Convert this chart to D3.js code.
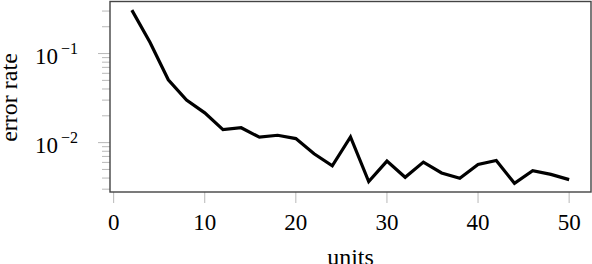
<!DOCTYPE html>
<html>
<head>
<meta charset="utf-8">
<script src="https://cdn.jsdelivr.net/npm/d3@7"></script>
<style>
  body{margin:0;background:#fff;}
  text{font-family:"Liberation Serif","Times New Roman",serif;fill:#000;}
</style>
</head>
<body>
<svg id="chart" width="592" height="264"></svg>
<script>
//data
var units = [2,4,6,8,10,12,14,16,18,20,22,24,26,28,30,32,34,36,38,40,42,44,46,48,50];
var errorRate = [0.307,0.133,0.0508,0.0301,0.0216,0.0140,0.0147,0.0115,0.0121,0.0111,0.0075,0.0055,
                 0.0116,0.00365,0.0062,0.00408,0.00604,0.00457,0.00397,0.00568,0.0063,0.00349,0.00485,0.0044,0.00384];
var xTicks = [0,10,20,30,40,50];
var yDecades = [-2,-1];

//plot box (note: "top" is taken by window.top)
var boxLeft = 110,
    boxRight = 591,
    boxTop = 1.5,
    boxBottom = 192;

var svg = d3.select('#chart');

//pgfplots style 5% enlargement of the data range
var xExt = d3.extent(units),
    xPad = (xExt[1]-xExt[0])*0.05;
var lyExt = d3.extent(errorRate).map(Math.log10),
    lyPad = (lyExt[1]-lyExt[0])*0.05;

var x = d3.scaleLinear()
          .domain([xExt[0]-xPad, xExt[1]+xPad])
          .range([boxLeft, boxRight]);
var y = d3.scaleLog()
          .domain([Math.pow(10,lyExt[0]-lyPad), Math.pow(10,lyExt[1]+lyPad)])
          .range([boxBottom, boxTop]);

//minor ticks on the log axis
var minor = [];
for(let d=-3;d<=0;d++){
    for(let m=2;m<=9;m++){
        let v = m*Math.pow(10,d);
        if(v>=y.domain()[0] && v<=y.domain()[1]) minor.push(v);
    }
}

var tickCol = '#b8b8b8';

svg.append('g').selectAll('line')
   .data(minor)
   .enter()
   .append('line')
   .attr('x1',boxLeft-8).attr('x2',boxLeft)
   .attr('y1',d=>y(d)).attr('y2',d=>y(d))
   .style('stroke',tickCol).style('stroke-width',1);

svg.append('g').selectAll('line')
   .data(yDecades)
   .enter()
   .append('line')
   .attr('x1',boxLeft-12).attr('x2',boxLeft)
   .attr('y1',d=>y(Math.pow(10,d))).attr('y2',d=>y(Math.pow(10,d)))
   .style('stroke',tickCol).style('stroke-width',1);

svg.append('g').selectAll('line')
   .data(xTicks)
   .enter()
   .append('line')
   .attr('x1',d=>x(d)).attr('x2',d=>x(d))
   .attr('y1',boxBottom).attr('y2',boxBottom+11)
   .style('stroke',tickCol).style('stroke-width',1);

//tick labels
svg.append('g').selectAll('text')
   .data(xTicks)
   .enter()
   .append('text')
   .attr('x',d=>x(d))
   .attr('y',230)
   .style('text-anchor','middle')
   .style('font-size','23px')
   .text(d=>d);

var yl = svg.append('g').selectAll('text')
   .data(yDecades)
   .enter()
   .append('text')
   .attr('x',35)
   .attr('y',d=>y(Math.pow(10,d))+10.5)
   .style('font-size','23px');
yl.append('tspan').text('10');
yl.append('tspan')
  .attr('dx',3)
  .attr('dy',-10.5)
  .style('font-size','16px')
  .text(d=>'\u2212'+Math.abs(d));

//axis titles
svg.append('text')
   .attr('x',(boxLeft+boxRight)/2)
   .attr('y',265)
   .style('text-anchor','middle')
   .style('font-size','24px')
   .text('units');

svg.append('text')
   .attr('transform','translate(17,97.5) rotate(-90)')
   .style('text-anchor','middle')
   .style('font-size','24px')
   .text('error rate');

//the series
var line = d3.line()
             .x((d,i)=>x(units[i]))
             .y(d=>y(d));

svg.append('path')
   .datum(errorRate)
   .attr('d',line)
   .style('fill','none')
   .style('stroke','#000')
   .style('stroke-width',3.2)
   .style('stroke-linejoin','miter');

//frame
svg.append('rect')
   .attr('x',boxLeft).attr('y',boxTop)
   .attr('width',boxRight-boxLeft).attr('height',boxBottom-boxTop)
   .style('fill','none')
   .style('stroke','#444')
   .style('stroke-width',1.4);
</script>
</body>
</html>
